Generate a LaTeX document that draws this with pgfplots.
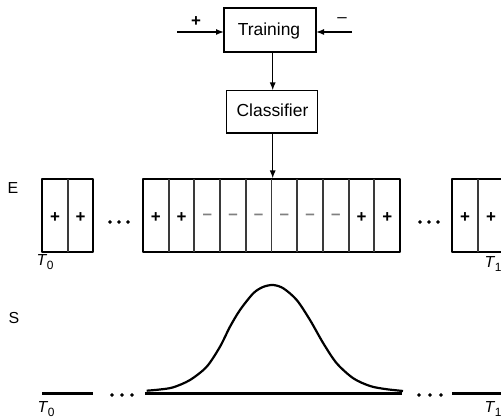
\documentclass[border=0pt]{standalone}
\usepackage{fontspec}
\setmainfont{Liberation Sans}
\usepackage{pgfplots}
\pgfplotsset{compat=1.18}
\usetikzlibrary{arrows.meta}
\definecolor{divc}{HTML}{3A3A3A}
\definecolor{minc}{HTML}{808080}
\newcommand{\bigf}{\fontsize{17.5}{20}\selectfont}
\newcommand{\lblf}{\fontsize{16}{18}\selectfont}
\newcommand{\sgnf}{\fontsize{17}{18}\selectfont}
\newcommand{\Tl}[1]{\fontsize{16}{18}\selectfont\textit{T}\kern-0.5pt\raisebox{-3.5pt}{\fontsize{12}{12}\selectfont #1}}
\begin{document}
\begin{tikzpicture}
\begin{axis}[at={(0,0)},anchor=south west,scale only axis,width=501bp,height=418bp,
  xmin=0,xmax=501,ymin=0,ymax=418,hide axis,clip=false,unbounded coords=jump]
% Training box and arrows
\draw[line width=1.6bp] (axis cs:224,366) rectangle (axis cs:316,410);
\node[anchor=base] at (axis cs:269,382) {\bigf Training};
\draw[line width=1.4bp,-{Latex[length=8bp,width=6bp]}] (axis cs:177,386) -- (axis cs:224,386);
\draw[line width=1.4bp,-{Latex[length=8bp,width=6bp]}] (axis cs:352,386) -- (axis cs:316,386);
\node at (axis cs:196,396) {\sgnf\bfseries +};
\node at (axis cs:342,398) {\sgnf –};
% Classifier
\draw[line width=1.4bp,-{Latex[length=8bp,width=6bp]}] (axis cs:272.7,366) -- (axis cs:272.7,327.5);
\draw[line width=1.6bp] (axis cs:226.5,284.7) rectangle (axis cs:317.3,327.3);
\node[anchor=base] at (axis cs:272.5,301.3) {\bigf Classifier};
\draw[line width=1.4bp,-{Latex[length=8bp,width=6bp]}] (axis cs:272.7,284.7) -- (axis cs:272.7,239.5);
% E row
\node at (axis cs:13,230) {\lblf E};
\draw[line width=2.4bp,line join=round] (axis cs:42,166) rectangle (axis cs:93,239);
\draw[line width=2.4bp,line join=round] (axis cs:143,166) rectangle (axis cs:400,239);
\draw[line width=2.4bp,line join=round] (axis cs:452,166) rectangle (axis cs:506,239);
\addplot[divc,line width=1.9bp] coordinates {
 (68,166)(68,239) (nan,nan)
 (168.7,166)(168.7,239) (nan,nan)
 (194.4,166)(194.4,239) (nan,nan)
 (220.1,166)(220.1,239) (nan,nan)
 (245.8,166)(245.8,239) (nan,nan)
 (271.5,166)(271.5,239) (nan,nan)
 (297.2,166)(297.2,239) (nan,nan)
 (322.9,166)(322.9,239) (nan,nan)
 (348.6,166)(348.6,239) (nan,nan)
 (374.3,166)(374.3,239) (nan,nan)
 (478,166)(478,239)};
\node at (axis cs:55,200.5) {\sgnf\bfseries +};
\node at (axis cs:80.5,200.5) {\sgnf\bfseries +};
\node at (axis cs:155.9,200.5) {\sgnf\bfseries +};
\node at (axis cs:181.6,200.5) {\sgnf\bfseries +};
\node at (axis cs:361.5,200.5) {\sgnf\bfseries +};
\node at (axis cs:387.2,200.5) {\sgnf\bfseries +};
\node at (axis cs:465,200.5) {\sgnf\bfseries +};
\node at (axis cs:491,200.5) {\sgnf\bfseries +};
\node[minc] at (axis cs:207.3,201.5) {\sgnf\bfseries –};
\node[minc] at (axis cs:233,201.5) {\sgnf\bfseries –};
\node[minc] at (axis cs:258.7,201.5) {\sgnf\bfseries –};
\node[minc] at (axis cs:284.4,201.5) {\sgnf\bfseries –};
\node[minc] at (axis cs:310.1,201.5) {\sgnf\bfseries –};
\node[minc] at (axis cs:335.8,201.5) {\sgnf\bfseries –};
\addplot[only marks,mark=*,mark size=1.7bp,black] coordinates {
 (110,196)(119,196)(128,196)(420,196)(429,196)(438,196)};
\node at (axis cs:45,156) {\Tl{0}};
\node at (axis cs:493,154) {\Tl{1}};
% S row
\node at (axis cs:14,100) {\lblf S};
\addplot[black,line width=2.2bp] coordinates {
 (42,24.5)(93,24.5) (nan,nan) (145,24.5)(402,24.5) (nan,nan) (452,24.5)(506,24.5)};
\addplot[black,line width=2.2bp,smooth] coordinates {
 (146.7,27.3)(160,28.5)(173.3,30.7)(190,38)(206.7,51.3)(220,71.3)(230,91.3)
 (240,108)(253.3,124.7)(263,131)(273,133)(283.3,129.7)(296.7,118)(310,98)
 (323.3,74.7)(336.7,54.7)(353.3,39.7)(370,32)(385,29)(400,27.3)(403,27)};
\addplot[only marks,mark=*,mark size=1.7bp,black] coordinates {
 (112,23)(122,23)(132,23)(419,23)(430,23)(441,23)};
\node at (axis cs:46,9) {\Tl{0}};
\node at (axis cs:493,9) {\Tl{1}};
\end{axis}
\pgfresetboundingbox
\useasboundingbox (0,0) rectangle (501bp,418bp);
\end{tikzpicture}
\end{document}
